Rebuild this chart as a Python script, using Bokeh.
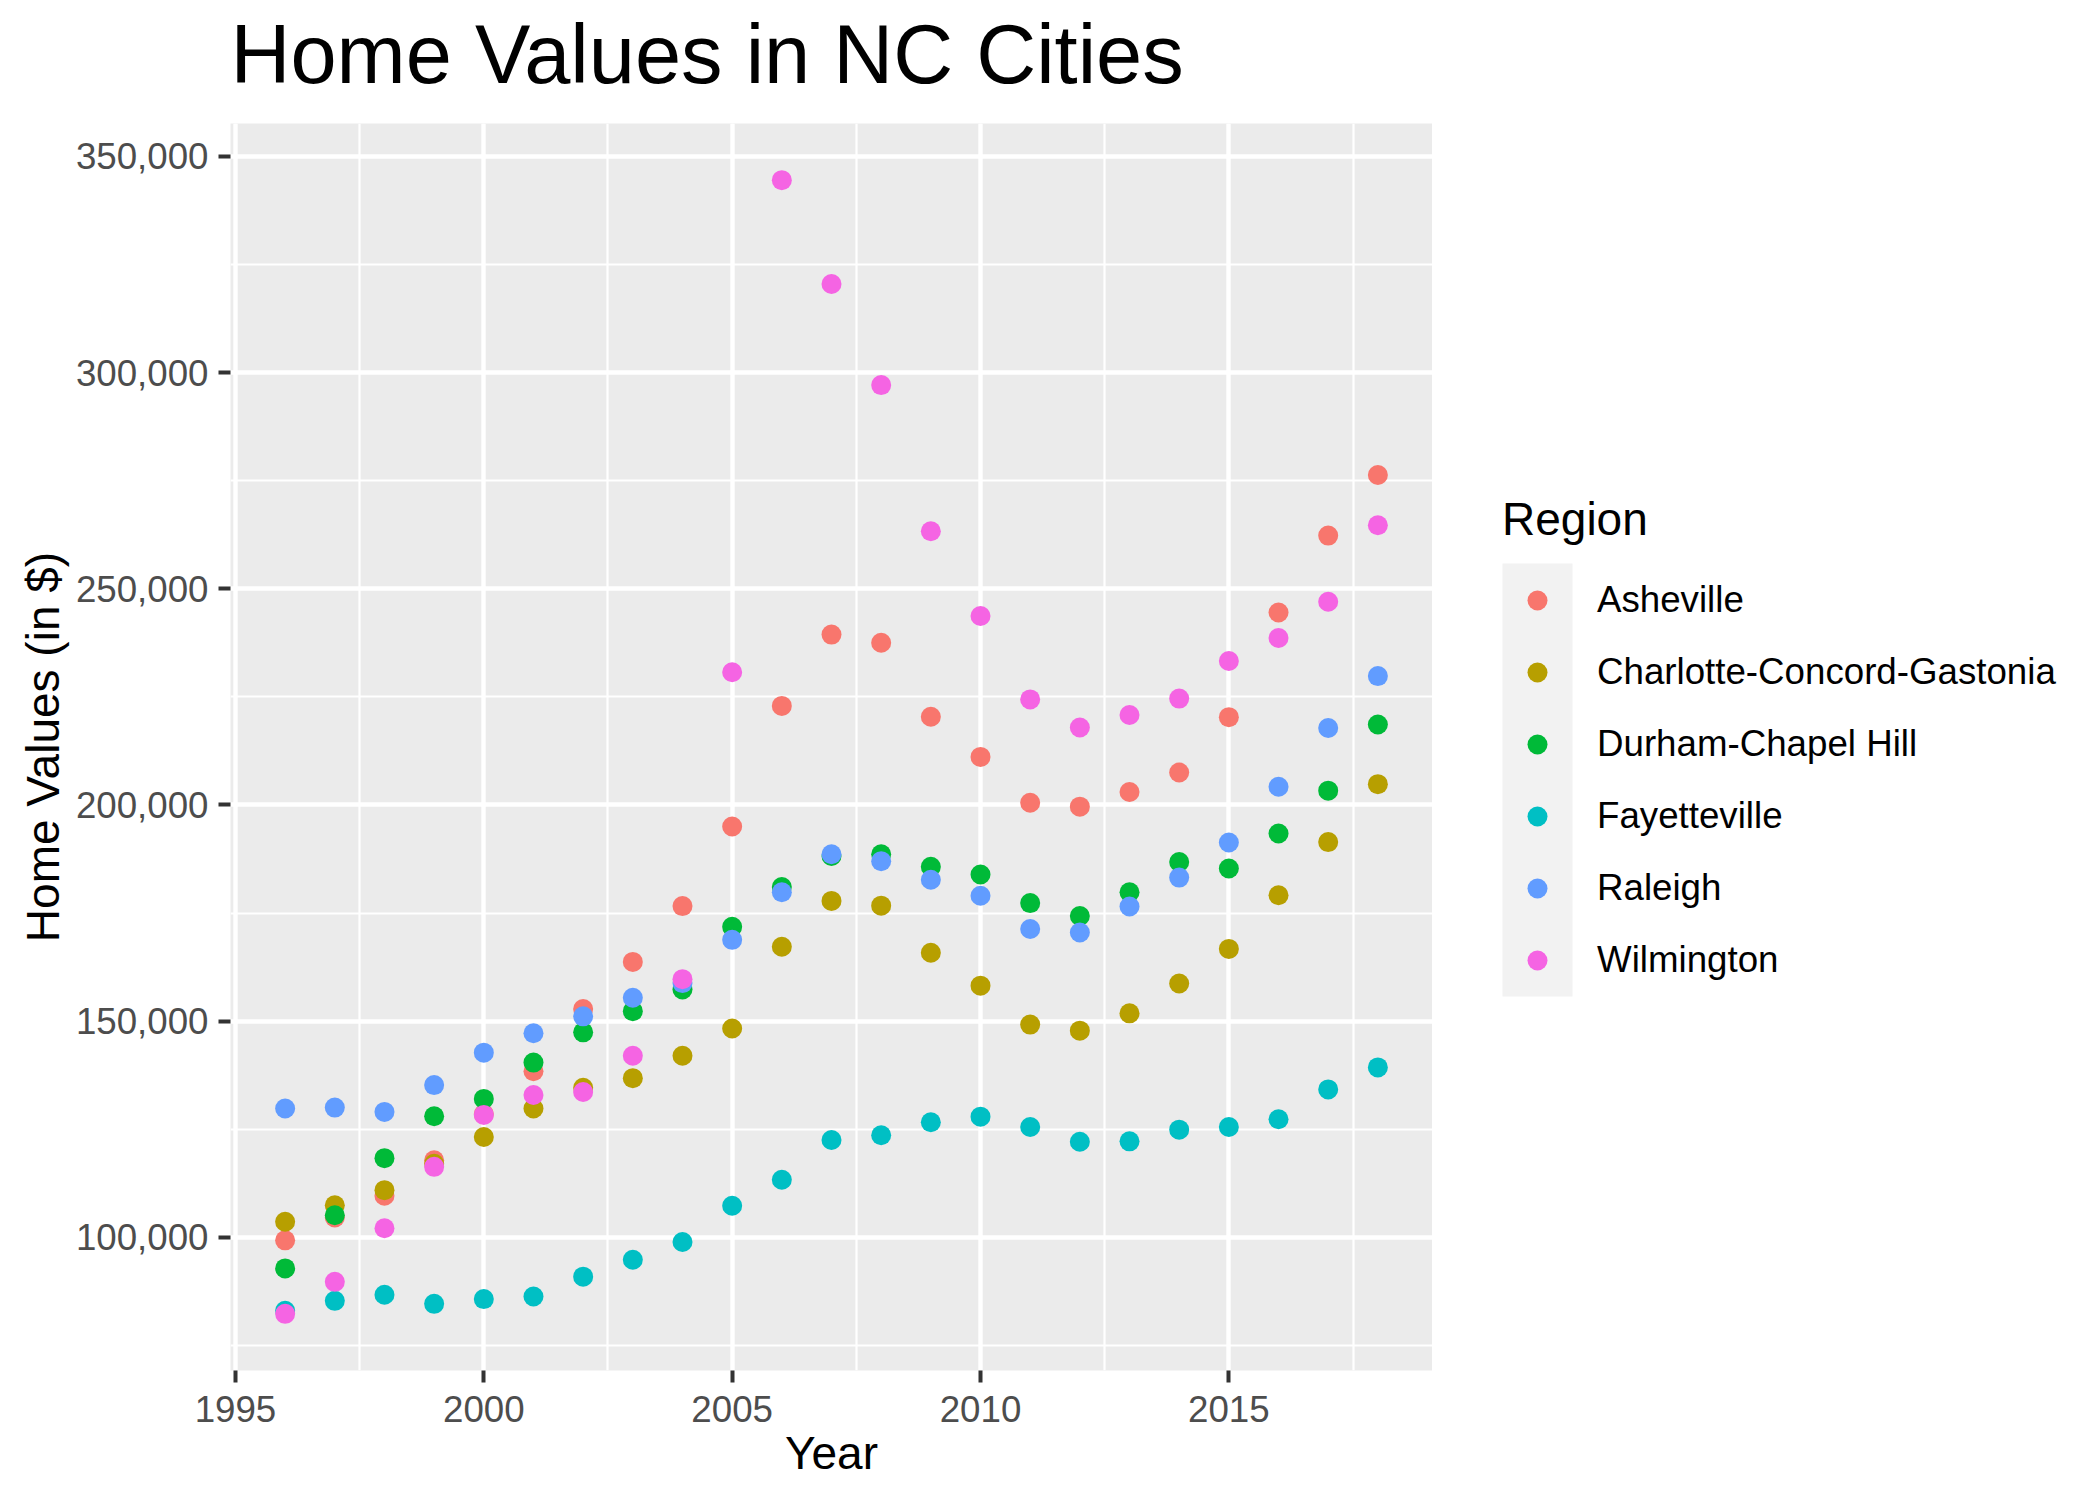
from bokeh.plotting import figure
from bokeh.layouts import row, column
from bokeh.models import (Legend, LegendItem, NumeralTickFormatter, SingleIntervalTicker,
                          Range1d, BoxAnnotation, Label)
from bokeh.embed import file_html
from bokeh.resources import INLINE

years = list(range(1996, 2019))
regions = ["Asheville", "Charlotte-Concord-Gastonia", "Durham-Chapel Hill",
           "Fayetteville", "Raleigh", "Wilmington"]
colors = ["#F8766D", "#B79F00", "#00BA38", "#00BFC4", "#619CFF", "#F564E3"]

asheville = [99300, 104600, 109600, 117800, 128500, 138400, 152800, 163700, 176600,
             195000, 222900, 239400, 237500, 220400, 211100, 200500, 199600, 203000,
             207500, 220300, 244500, 262300, 276300]
charlotte = [103600, 107400, 110900, 117000, 123200, 129800, 134600, 136800, 142000,
             148300, 167200, 177800, 176700, 165800, 158200, 149200, 147800, 151800,
             158700, 166700, 179100, 191400, 204800]
durham = [92800, 105100, 118300, 128000, 132000, 140400, 147400, 152300, 157300,
          171800, 181000, 188200, 188600, 185700, 183900, 177300, 174300, 179800,
          186800, 185300, 193400, 203300, 218600]
fayetteville = [83000, 85300, 86700, 84600, 85700, 86300, 90900, 94800, 98900,
                107300, 113300, 122500, 123600, 126600, 127900, 125500, 122100, 122200,
                124900, 125500, 127300, 134200, 139300]
raleigh = [129800, 130000, 129000, 135200, 142700, 147200, 151100, 155400, 158800,
           168800, 179800, 188600, 187000, 182700, 179000, 171300, 170500, 176500,
           183200, 191300, 204200, 217800, 229800]
wilmington = [82300, 89700, 102100, 116300, 128300, 132900, 133600, 142000, 159700,
              230700, 344500, 320500, 297100, 263300, 243700, 224400, 217900, 220800,
              224600, 233300, 238600, 247000, 264700]
series = [asheville, charlotte, durham, fayetteville, raleigh, wilmington]

FONT = "Liberation Sans"

allv = [v for s in series for v in s]
ypad = 0.05 * (max(allv) - min(allv))
xpad = 0.05 * (max(years) - min(years))

# title strip
tf = figure(width=2100, height=123, output_backend="svg", toolbar_location=None,
            x_axis_type=None, y_axis_type=None, min_border=0,
            x_range=Range1d(0, 1), y_range=Range1d(0, 1),
            background_fill_color="white", border_fill_color="white",
            outline_line_color=None)
tf.grid.visible = False
tf.add_layout(Label(x=230, y=69, x_units="screen", y_units="screen",
                    text="Home Values in NC Cities", text_font=FONT,
                    text_font_size="83px", text_color="black",
                    text_align="left", text_baseline="alphabetic"))

p = figure(width=1432, height=1376, output_backend="svg", toolbar_location=None,
           x_range=Range1d(min(years) - xpad, max(years) + xpad),
           y_range=Range1d(min(allv) - ypad, max(allv) + ypad),
           min_border_left=230, min_border_right=0, min_border_top=0,
           min_border_bottom=129,
           background_fill_color="#EBEBEB", border_fill_color="white",
           outline_line_color=None)

renderers = []
for name, vals, c in zip(regions, series, colors):
    r = p.scatter(x=years, y=vals, size=20, fill_color=c, line_color=None, marker="circle")
    renderers.append(r)

p.xaxis.ticker = SingleIntervalTicker(interval=5, num_minor_ticks=2)
p.yaxis.ticker = SingleIntervalTicker(interval=50000, num_minor_ticks=2)
p.yaxis.formatter = NumeralTickFormatter(format="0,0")
p.xaxis.axis_label = "Year"
p.yaxis.axis_label = "Home Values (in $)"

for ax in (p.xaxis, p.yaxis):
    ax.axis_line_color = None
    ax.major_tick_line_color = "#333333"
    ax.major_tick_line_width = 4
    ax.major_tick_out = 12
    ax.major_tick_in = 0
    ax.minor_tick_line_color = None
    ax.major_label_text_font = FONT
    ax.major_label_text_font_size = "36.7px"
    ax.major_label_text_color = "#4D4D4D"
    ax.major_label_standoff = 10
    ax.axis_label_text_font = FONT
    ax.axis_label_text_font_size = "46px"
    ax.axis_label_text_font_style = "normal"
    ax.axis_label_text_color = "black"
p.xaxis.major_label_standoff = 13
p.xaxis.axis_label_standoff = 2
p.yaxis.axis_label_standoff = 4

for g in (p.xgrid, p.ygrid):
    g.grid_line_color = "white"
    g.grid_line_width = 4.4
    g.minor_grid_line_color = "white"
    g.minor_grid_line_width = 2.2

# legend panel: a second figure holding the legend; its renderers hold the same
# data but its ranges keep them out of view, so only the legend keys show
lf = figure(width=668, height=1376, output_backend="svg", toolbar_location=None,
            x_axis_type=None, y_axis_type=None, min_border_left=0, min_border_right=0,
            min_border_top=0, min_border_bottom=129,
            x_range=Range1d(0, 1), y_range=Range1d(0, 1),
            background_fill_color="white", border_fill_color="white",
            outline_line_color=None)
lf.grid.visible = False

legend_renderers = []
for name, vals, c in zip(regions, series, colors):
    r = lf.scatter(x=years, y=vals, size=20, fill_color=c, line_color=None, marker="circle")
    legend_renderers.append(r)

keybg = BoxAnnotation(left=70, right=140, bottom=374, top=807,
                      left_units="screen", right_units="screen",
                      bottom_units="screen", top_units="screen",
                      fill_color="#F2F2F2", fill_alpha=1, line_color=None, level="underlay")
lf.add_layout(keybg)

legend = Legend(items=[LegendItem(label=n, renderers=[r]) for n, r in zip(regions, legend_renderers)],
                location=(70, 385), glyph_width=70, glyph_height=50, spacing=22,
                label_standoff=25, padding=0, margin=0, border_line_color=None,
                background_fill_alpha=0, title="Region", title_standoff=29,
                title_text_font=FONT, title_text_font_size="46px",
                title_text_font_style="normal", title_text_color="black",
                label_text_font=FONT, label_text_font_size="36.7px",
                label_text_color="black")
lf.add_layout(legend)

layout = column(tf, row(p, lf))
open("out.html", "w").write(file_html(layout, INLINE))
